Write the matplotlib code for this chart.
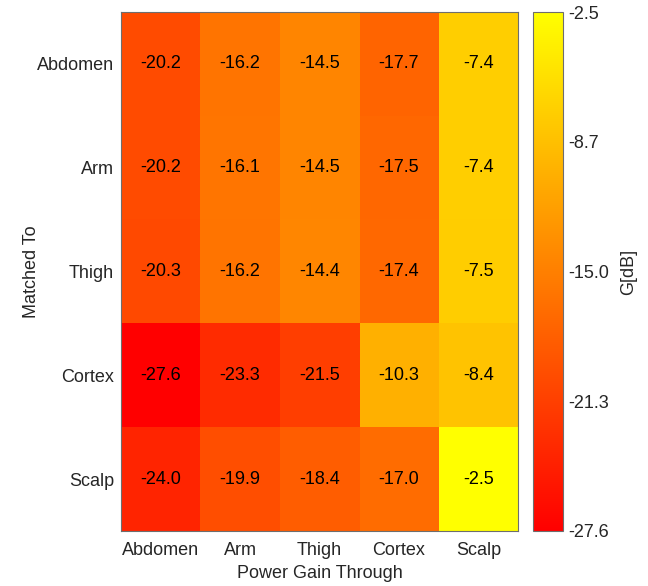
import numpy as np
import matplotlib.pyplot as plt

plt.rcParams['font.family'] = ['Liberation Sans', 'DejaVu Sans']

# Data
matched_to = ["Abdomen", "Arm", "Thigh", "Cortex", "Scalp"]
gain_through = ["Abdomen", "Arm", "Thigh", "Cortex", "Scalp"]
abdomen_row = [-20.2, -16.2, -14.5, -17.7, -7.4]
arm_row = [-20.2, -16.1, -14.5, -17.5, -7.4]
thigh_row = [-20.3, -16.2, -14.4, -17.4, -7.5]
cortex_row = [-27.6, -23.3, -21.5, -10.3, -8.4]
scalp_row = [-24.0, -19.9, -18.4, -17.0, -2.5]
cbar_labels = ["-27.6", "-21.3", "-15.0", "-8.7", "-2.5"]

G = np.array([abdomen_row, arm_row, thigh_row, cortex_row, scalp_row])
vmin, vmax = G.min(), G.max()
fs = 13

fig = plt.figure(figsize=(6.48, 5.86), dpi=100)
ax = fig.add_axes([0.1867, 0.0939, 0.6127, 0.8856])
cax = fig.add_axes([0.8225, 0.0939, 0.0463, 0.8856])

im = ax.imshow(G, cmap='autumn', vmin=vmin, vmax=vmax, aspect='auto')

for i in range(G.shape[0]):
    for j in range(G.shape[1]):
        ax.text(j, i, f"{G[i, j]:.1f}", ha='center', va='center',
                fontsize=fs, color='black')

ax.set_xticks(range(len(gain_through)))
ax.set_xticklabels(gain_through, fontsize=fs)
ax.set_yticks(range(len(matched_to)))
ax.set_yticklabels(matched_to, fontsize=fs)
ax.tick_params(axis='x', length=0, pad=8, colors='#262626')
ax.tick_params(axis='y', length=0, pad=5, colors='#262626')
ax.set_xlabel("Power Gain Through", fontsize=fs, color='#262626', labelpad=4)
ax.set_ylabel("Matched To", fontsize=fs, color='#262626', labelpad=-2)
for s in ax.spines.values():
    s.set_color('#6e6e6e')

cb = fig.colorbar(im, cax=cax)
cb.set_ticks(np.linspace(vmin, vmax, len(cbar_labels)))
cb.set_ticklabels(cbar_labels)
cb.ax.tick_params(length=0, labelsize=fs, colors='#262626', pad=4)
cb.set_label("G[dB]", fontsize=fs, color='#262626', labelpad=8)
cb.outline.set_edgecolor('#6e6e6e')

fig.savefig("out.png", dpi=100)
